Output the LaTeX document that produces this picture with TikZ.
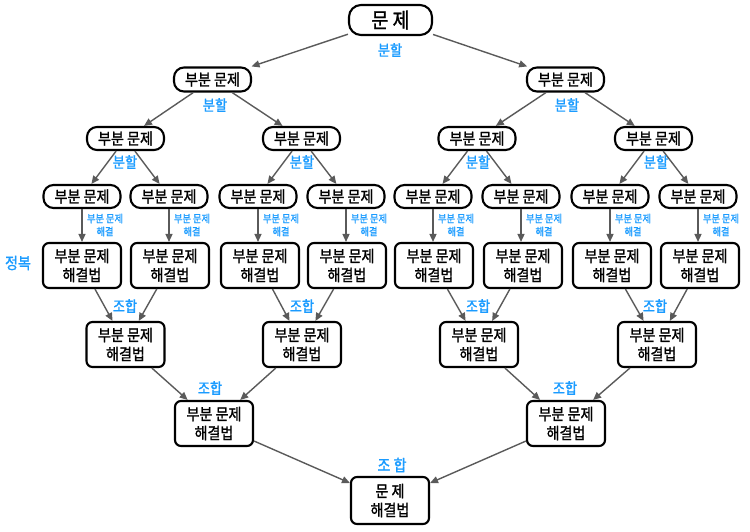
\documentclass[tikz,border=0pt]{standalone}
\usepackage{fontspec}
\setmainfont{Noto Sans CJK KR}[FakeStretch=0.88,FakeBold=1.2]
\usetikzlibrary{arrows.meta}
\definecolor{lblue}{HTML}{1A9BFF}
\definecolor{agray}{HTML}{5A5A5A}
\begin{document}
\begin{tikzpicture}[x=1pt,y=-1pt,
 pill/.style={draw=black,line width=2.1pt,rounded corners=10pt,minimum width=77pt,minimum height=23pt,inner sep=0pt,font=\fontsize{16}{18}\selectfont},
 solbox/.style={draw=black,line width=2.1pt,rounded corners=6pt,minimum width=78pt,minimum height=45pt,inner sep=0pt,align=center,font=\fontsize{16}{19}\selectfont},
 conn/.style={draw=agray,line width=1.4pt,-{Triangle[length=8pt,width=7pt]}},
 lbl/.style={text=lblue,inner sep=0pt,font=\fontsize{15}{17}\selectfont},
 slbl/.style={text=lblue,inner sep=0pt,align=center,font=\fontsize{10.5}{13}\selectfont},
]
\useasboundingbox (0,0) rectangle (750,531);
% nodes
\node[pill,minimum width=83pt,minimum height=30pt,rounded corners=12pt,font=\fontsize{21}{23}\selectfont] (root) at (390.5,20) {문 제};
\node[pill,minimum height=24pt] (a1) at (212.5,79.5) {부분 문제};
\node[pill,minimum height=24pt] (a2) at (565.5,79.5) {부분 문제};
\foreach \x [count=\i] in {125.5,301.5,477,653.5}
  \node[pill] (b\i) at (\x,138.5) {부분 문제};
\foreach \x [count=\i] in {82,169,258,346,433,521,610,698}
  \node[pill] (c\i) at (\x,196.5) {부분 문제};
\foreach \x [count=\i] in {82,170,260,347,434,523,612,700}
  \node[solbox] (d\i) at (\x,265.5) {부분 문제\\해결법};
\foreach \x [count=\i] in {125.5,302,479,657}
  \node[solbox] (e\i) at (\x,344.5) {부분 문제\\해결법};
\node[solbox] (f1) at (214,423.5) {부분 문제\\해결법};
\node[solbox] (f2) at (566,423.5) {부분 문제\\해결법};
\node[solbox,minimum height=47pt] (g) at (390,500.5) {문 제\\해결법};
% connectors
\draw[conn] (root) -- (a1);
\draw[conn] (root) -- (a2);
\foreach \i in {1,2} {
  \pgfmathtruncatemacro\j{2*\i-1}
  \pgfmathtruncatemacro\k{2*\i}
  \draw[conn] (a\i) -- (b\j);
  \draw[conn] (a\i) -- (b\k);
  \draw[conn] (e\j) -- (f\i);
  \draw[conn] (e\k) -- (f\i);
}
\foreach \i in {1,...,4} {
  \pgfmathtruncatemacro\j{2*\i-1}
  \pgfmathtruncatemacro\k{2*\i}
  \draw[conn] (b\i) -- (c\j);
  \draw[conn] (b\i) -- (c\k);
  \draw[conn] (d\j) -- (e\i);
  \draw[conn] (d\k) -- (e\i);
}
\foreach \i in {1,...,8}
  \draw[conn] (c\i.south) -- (c\i.south |- d\i.north);
\draw[conn] (f1) -- (g);
\draw[conn] (f2) -- (g);
% labels
\node[lbl] (l0) at (390,50) {분할};
\node[lbl] (l1) at (215,105) {분할};
\node[lbl] (l2) at (567,105) {분할};
\foreach \x [count=\i] in {125,302,478,656}
  \node[lbl] (lb\i) at (\x,162) {분할};
\foreach \x [count=\i] in {82,169,258,346,433,521,610,698}
  \node[slbl] (ls\i) at (\x+23,225) {부분 문제\\해결};
\foreach \x [count=\i] in {125,302,478,655}
  \node[lbl] (le\i) at (\x,306) {조합};
\node[lbl] (lf1) at (210,388) {조합};
\node[lbl] (lf2) at (565,388) {조합};
\node[lbl,font=\fontsize{16}{18}\selectfont] (lg) at (392,465) {조 합};
\node[lbl,font=\fontsize{16}{18}\selectfont] (lc) at (18,263) {정복};
\end{tikzpicture}
\end{document}
